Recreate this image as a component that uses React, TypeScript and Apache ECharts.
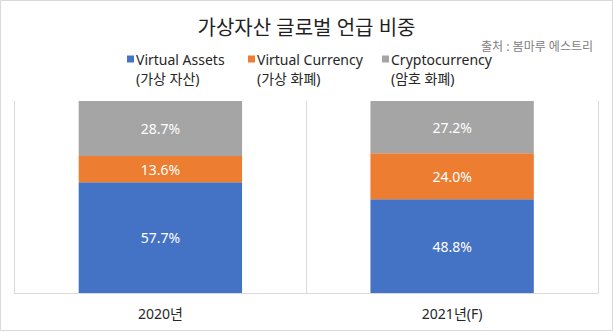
import React, { useEffect, useRef } from "react";
import * as echarts from "echarts";

const categories = ["2020년", "2021년(F)"];
const seriesNames = ["Virtual Assets", "Virtual Currency", "Cryptocurrency"];
const seriesSubNames = ["(가상 자산)", "(가상 화폐)", "(암호 화폐)"];
const virtualAssets = [57.7, 48.8];
const virtualCurrency = [13.6, 24.0];
const cryptocurrency = [28.7, 27.2];
const colors = ["#4472C4", "#ED7D31", "#A5A5A5"];
const titleText = "가상자산 글로벌 언급 비중";
const sourceText = "출처 : 봄마루 에스트리";

const FONT = "'Noto Sans', 'Noto Sans CJK KR', sans-serif";
const LEGEND_ICON = "path://M0,0H10V10H0Z M0,37.1H10V37.11H0Z";

export default function App() {
  const ref = useRef<HTMLDivElement>(null);
  useEffect(() => {
    document.body.style.margin = "0";
    const chart = echarts.init(ref.current!, null, { renderer: "svg" });
    const values = [virtualAssets, virtualCurrency, cryptocurrency];
    const legendLefts = [127, 248, 382];
    const option: any = {
      animation: false,
      backgroundColor: "#ffffff",
      textStyle: { fontFamily: FONT },
      title: [
        {
          text: titleText,
          left: "center",
          top: 12,
          textStyle: { fontFamily: FONT, fontSize: 20, fontWeight: "normal", color: "#1f1f1f" },
        },
        {
          text: sourceText,
          right: 15,
          top: 35,
          textStyle: { fontFamily: FONT, fontSize: 12, fontWeight: "normal", color: "#808080" },
        },
      ],
      legend: seriesNames.map((n, i) => ({
        data: [{ name: n, icon: LEGEND_ICON }],
        left: legendLefts[i],
        top: 49.5,
        padding: 0,
        itemWidth: 7,
        itemHeight: 26,
        itemGap: 0,
        selectedMode: false,
        formatter: (name: string) => name + "\n" + seriesSubNames[seriesNames.indexOf(name)],
        textStyle: {
          fontFamily: FONT,
          fontSize: 14,
          color: "#262626",
          lineHeight: 19,
          padding: [0, 0, 0, -3],
        },
      })),
      grid: { left: 14.5, right: 15, top: 101, bottom: 38 },
      xAxis: {
        type: "category",
        data: categories,
        axisLine: { lineStyle: { color: "#d9d9d9", width: 1 } },
        axisTick: { show: false },
        splitLine: { show: true, lineStyle: { color: "#d9d9d9", width: 1 } },
        axisLabel: { fontFamily: FONT, fontSize: 14, color: "#262626", margin: 13 },
      },
      yAxis: {
        type: "value",
        min: 0,
        max: 100,
        show: false,
        splitLine: { show: false },
      },
      series: seriesNames.map((n, i) => ({
        name: n,
        type: "bar",
        stack: "total",
        barWidth: "56%",
        data: values[i],
        itemStyle: { color: colors[i] },
        label: {
          show: true,
          position: "inside",
          color: "#ffffff",
          fontFamily: FONT,
          fontSize: 14,
          formatter: (p: any) => p.value.toFixed(1) + "%",
        },
      })),
      graphic: [
        {
          type: "rect",
          shape: { x: 0.5, y: 0.5, width: 612, height: 330 },
          style: { fill: "none", stroke: "#d9d9d9", lineWidth: 1 },
          silent: true,
        },
      ],
    };
    chart.setOption(option);
    return () => chart.dispose();
  }, []);
  return (
    <div
      ref={ref}
      style={{ position: "absolute", left: 0, top: 0, width: 613, height: 331 }}
    />
  );
}
